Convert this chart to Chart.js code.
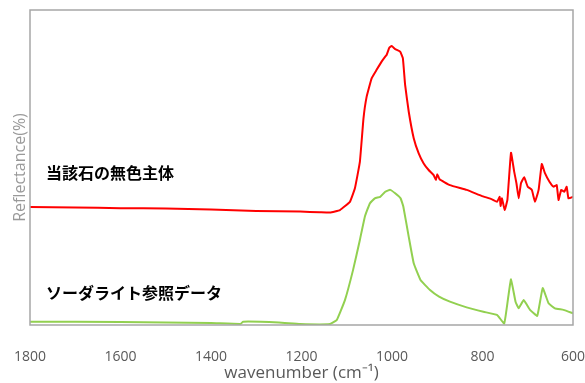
<!DOCTYPE html>
<html>
<head>
<meta charset="utf-8">
<script src="https://cdn.jsdelivr.net/npm/chart.js@4"></script>
<style>
  body { margin: 0; background: #fff; }
  #wrap { width: 585px; height: 383px; }
</style>
</head>
<body>
<div id="wrap"><canvas id="spectrum"></canvas></div>
<script>
// 反射スペクトル（縦軸は任意単位）
const seriesNames = ['当該石の無色主体', 'ソーダライト参照データ'];

const redWavenumbers = [1800, 1700, 1600, 1500, 1400, 1300, 1203, 1160, 1137, 1115, 1093, 1082, 1071, 1063, 1056, 1045, 1034, 1023, 1015, 1012, 1006, 1001, 993, 982, 976, 971, 963, 952, 941, 930, 919, 908, 903, 900, 895, 872, 835, 802, 779, 768, 762, 760, 757, 751, 745, 737, 730, 725, 720, 715, 708, 700, 691, 684, 676, 669, 662, 652, 643, 636, 632, 626, 619, 614, 610, 600];
const redValues = [37.5, 37.3, 37.1, 37.0, 36.7, 36.2, 36.0, 35.8, 35.7, 36.5, 39.1, 43.4, 51.8, 65.6, 72.5, 78.3, 81.0, 83.6, 85.2, 85.7, 88.0, 88.6, 87.6, 86.8, 84.7, 76.2, 67.7, 59.3, 54.5, 51.3, 49.2, 47.6, 46.0, 47.9, 46.3, 44.4, 42.9, 41.0, 39.9, 39.1, 40.7, 37.8, 40.2, 36.5, 39.7, 54.7, 48.7, 45.0, 40.2, 45.0, 46.9, 43.9, 42.9, 39.1, 42.9, 51.1, 48.2, 45.5, 43.9, 44.4, 39.7, 42.9, 42.3, 43.9, 40.2, 40.7];

const greenWavenumbers = [1800, 1600, 1400, 1335, 1329, 1250, 1203, 1137, 1122, 1104, 1086, 1071, 1060, 1049, 1038, 1026, 1015, 1004, 993, 981, 975, 963, 952, 937, 916, 896, 872, 835, 798, 768, 752, 743, 737, 727, 720, 709, 695, 679, 667, 654, 640, 621, 600];
const greenValues = [1.05, 0.95, 0.63, 0.32, 1.05, 0.8, 0.3, 0.3, 1.6, 7.9, 17.5, 27.0, 34.4, 38.6, 40.2, 40.7, 42.3, 42.9, 41.8, 40.2, 37.6, 28.0, 19.6, 14.3, 11.1, 9.0, 7.4, 5.6, 4.2, 3.2, 0.5, 9.0, 14.5, 7.4, 5.3, 7.9, 4.8, 2.9, 11.7, 6.9, 5.3, 4.8, 3.7];

const xTicks = [1800, 1600, 1400, 1200, 1000, 800, 600];

function toPoints(xs, ys) {
  return xs.map(function (x, i) { return { x: x, y: ys[i] }; });
}

// 枠線と系列名の描画
const frameAndLabels = {
  id: 'frameAndLabels',
  afterDatasetsDraw(chart) {
    const ctx = chart.ctx;
    const a = chart.chartArea;
    ctx.save();
    ctx.strokeStyle = '#a6a6a6';
    ctx.lineWidth = 1.5;
    ctx.strokeRect(a.left, a.top, a.right - a.left, a.bottom - a.top);
    ctx.fillStyle = '#000';
    ctx.font = 'bold 16px "Noto Sans CJK JP"';
    ctx.textBaseline = 'middle';
    ctx.fillText(seriesNames[0], 46, 173);
    ctx.fillText(seriesNames[1], 46, 293);
    ctx.restore();
  }
};

new Chart(document.getElementById('spectrum'), {
  type: 'line',
  data: {
    datasets: [
      {
        label: seriesNames[0],
        data: toPoints(redWavenumbers, redValues),
        borderColor: '#ff0000',
        borderWidth: 2,
        pointRadius: 0,
        tension: 0.1
      },
      {
        label: seriesNames[1],
        data: toPoints(greenWavenumbers, greenValues),
        borderColor: '#92d050',
        borderWidth: 2,
        pointRadius: 0,
        tension: 0.1
      }
    ]
  },
  options: {
    responsive: true,
    maintainAspectRatio: false,
    animation: false,
    layout: { padding: { top: 10, right: 12, left: 0, bottom: 0 } },
    plugins: { legend: { display: false }, tooltip: { enabled: false } },
    scales: {
      x: {
        type: 'linear',
        reverse: true,
        min: 600,
        max: 1800,
        afterBuildTicks: function (scale) {
          scale.ticks = xTicks.map(function (v) { return { value: v }; });
        },
        afterFit: function (scale) {
          scale.height = 58;
          scale.paddingLeft = 0;
          scale.paddingRight = 0;
        },
        grid: { display: false },
        border: { display: false },
        ticks: {
          padding: 16,
          maxRotation: 0,
          color: '#595959',
          font: { family: '"Open Sans"', size: 14 },
          callback: function (v) { return String(v); }
        },
        title: {
          display: true,
          text: 'wavenumber (cm⁻¹)',
          color: '#595959',
          padding: { top: 0, bottom: 0 },
          font: { family: '"Open Sans"', size: 17 }
        }
      },
      y: {
        min: 0,
        max: 100,
        afterFit: function (scale) { scale.width = 30; },
        grid: { display: false },
        border: { display: false },
        ticks: { display: false },
        title: {
          display: true,
          text: 'Reflectance(%)',
          color: '#999999',
          padding: { top: 11, bottom: 0 },
          font: { family: '"Open Sans"', size: 16 }
        }
      }
    }
  },
  plugins: [frameAndLabels]
});
</script>
</body>
</html>
